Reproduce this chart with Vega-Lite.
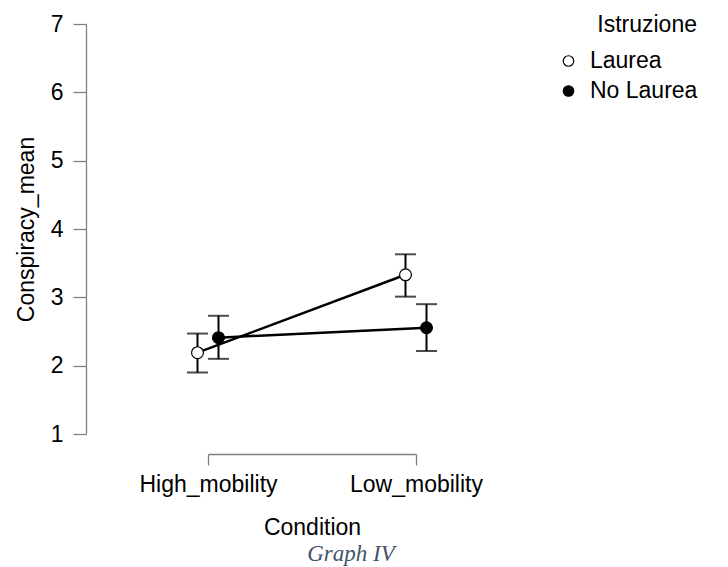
{
  "$schema": "https://vega.github.io/schema/vega-lite/v6.json",
  "autosize": {"type": "none"},
  "padding": {"left": 208, "top": 24, "right": 312, "bottom": 133},
  "width": 208,
  "height": 410,
  "background": "white",
  "config": {
    "font": "Liberation Sans",
    "view": {"stroke": null}
  },
  "title": {
    "text": "Graph IV",
    "orient": "bottom",
    "frame": "group",
    "anchor": "middle",
    "dx": 39,
    "offset": 4,
    "font": "Liberation Serif",
    "fontStyle": "italic",
    "fontWeight": "normal",
    "fontSize": 23,
    "color": "#44546A"
  },
  "data": {
    "values": [
      {"Condition": "High_mobility", "Istruzione": "Laurea", "mean": 2.19, "lower": 1.90, "upper": 2.47},
      {"Condition": "Low_mobility", "Istruzione": "Laurea", "mean": 3.33, "lower": 3.01, "upper": 3.63},
      {"Condition": "High_mobility", "Istruzione": "No Laurea", "mean": 2.41, "lower": 2.10, "upper": 2.73},
      {"Condition": "Low_mobility", "Istruzione": "No Laurea", "mean": 2.555, "lower": 2.215, "upper": 2.90}
    ]
  },
  "encoding": {
    "x": {
      "field": "Condition",
      "type": "nominal",
      "scale": {"type": "point", "padding": 0},
      "axis": {
        "title": "Condition",
        "labelAngle": 0,
        "offset": 20,
        "tickSize": 11,
        "domainColor": "#808080",
        "tickColor": "#808080",
        "domainWidth": 1.3,
        "tickWidth": 1.3,
        "labelFontSize": 23,
        "labelColor": "black",
        "labelPadding": 8,
        "titleFontSize": 23,
        "titleFontWeight": "normal",
        "titleColor": "black",
        "titlePadding": 20
      }
    },
    "xOffset": {
      "field": "Istruzione",
      "type": "nominal",
      "scale": {"type": "point", "padding": 0, "range": [-10.5, 10.5]}
    }
  },
  "layer": [
    {
      "mark": {"type": "rule", "color": "black", "strokeWidth": 2},
      "encoding": {
        "y": {"field": "lower", "type": "quantitative"},
        "y2": {"field": "upper"}
      }
    },
    {
      "mark": {"type": "tick", "color": "black", "thickness": 2, "size": 21, "orient": "horizontal"},
      "encoding": {"y": {"field": "lower", "type": "quantitative"}}
    },
    {
      "mark": {"type": "tick", "color": "black", "thickness": 2, "size": 21, "orient": "horizontal"},
      "encoding": {"y": {"field": "upper", "type": "quantitative"}}
    },
    {
      "mark": {"type": "line", "color": "black", "strokeWidth": 2.5},
      "encoding": {
        "y": {"field": "mean", "type": "quantitative"},
        "detail": {"field": "Istruzione"}
      }
    },
    {
      "mark": {"type": "point", "filled": false, "shape": "circle", "size": 140, "stroke": "black", "strokeWidth": 1.2, "opacity": 1},
      "encoding": {
        "y": {
          "field": "mean",
          "type": "quantitative",
          "scale": {"domain": [1, 7], "nice": false, "zero": false},
          "axis": {
            "title": "Conspiracy_mean",
            "values": [1, 2, 3, 4, 5, 6, 7],
            "format": "d",
            "offset": 122,
            "grid": false,
            "tickSize": 13,
            "domainColor": "#808080",
            "tickColor": "#808080",
            "domainWidth": 1.3,
            "tickWidth": 1.3,
            "labelFontSize": 23,
            "labelColor": "black",
            "labelPadding": 10,
            "titleFontSize": 23,
            "titleFontWeight": "normal",
            "titleColor": "black",
            "titlePadding": 12
          }
        },
        "fill": {
          "field": "Istruzione",
          "type": "nominal",
          "scale": {"domain": ["Laurea", "No Laurea"], "range": ["white", "black"]},
          "legend": {
            "orient": "none",
            "legendX": 349,
            "legendY": -10.5,
            "title": "Istruzione",
            "titleFontSize": 23,
            "titleFontWeight": "normal",
            "titleColor": "black",
            "titleAnchor": "end",
            "titlePadding": 13,
            "labelFontSize": 23,
            "labelColor": "black",
            "labelOffset": 10,
            "rowPadding": 6,
            "symbolSize": 110,
            "symbolType": "circle",
            "symbolStrokeColor": "black",
            "symbolStrokeWidth": 1.2
          }
        }
      }
    }
  ]
}
